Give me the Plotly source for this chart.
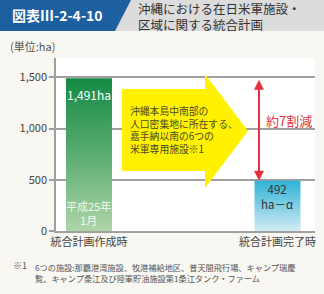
import plotly.graph_objects as go

# ---- data ----
categories = ["統合計画作成時", "統合計画完了時"]
values = [1491, 492]
value_labels = ["1,491ha", "492<br>ha－α"]
sub_labels = ["平成25年<br>1月", ""]
y_tickvals = [0, 500, 1000, 1500]
y_ticktext = ["0", "500", "1,000", "1,500"]
unit_label = "(単位:ha)"
title_id = "図表Ⅲ-2-4-10"
title_text = "沖縄における在日米軍施設・<br>区域に関する統合計画"
arrow_text = "沖縄本島中南部の<br>人口密集地に所在する、<br>嘉手納以南の6つの<br>米軍専用施設※1"
reduction_text = "約7割減"
footnote_mark = "※1"
footnote_text = "6つの施設:那覇港湾施設、牧港補給地区、普天間飛行場、キャンプ瑞慶<br>覧、キャンプ桑江及び陸軍貯油施設第1桑江タンク・ファーム"

W, H = 324, 294
L, R, T, B = 56, 9, 58, 63
PW, PH = W - L - R, H - T - B
FONT = "Noto Sans CJK JP"


def px(x):
    return (x - L) / PW


def py(y):
    return (H - B - y) / PH


bar_w = 0.244
xpos = list(range(len(categories)))
grads = [
    [[0, "#aed5a8"], [0.5, "#5aac72"], [1, "#158a45"]],
    [[0, "#d2ebf3"], [1, "#2fb2d6"]],
]

fig = go.Figure()
for i, (c, v) in enumerate(zip(xpos, values)):
    fig.add_trace(go.Scatter(
        x=[c - bar_w / 2, c + bar_w / 2, c + bar_w / 2, c - bar_w / 2, c - bar_w / 2],
        y=[0, 0, v, v, 0],
        mode="lines", fill="toself", line=dict(width=0),
        fillgradient=dict(type="vertical", colorscale=grads[i], start=0, stop=v),
        hoverinfo="skip", showlegend=False,
    ))

shapes = []
# header
shapes.append(dict(type="rect", xref="paper", yref="paper",
                   x0=px(0), x1=px(W), y0=py(31), y1=py(0),
                   fillcolor="#dcdcdc", line=dict(width=0), layer="below"))
shapes.append(dict(type="path", xref="paper", yref="paper",
                   path=f"M{px(0)},{py(0)} L{px(131)},{py(0)} L{px(115)},{py(31)} L{px(0)},{py(31)} Z",
                   fillcolor="#1d5f9f", line=dict(width=0)))
# yellow arrow
pts = [(122, 89), (205, 89), (205, 74), (248, 131), (205, 188), (205, 171), (122, 171)]
path = "M" + " L".join(f"{px(a)},{py(b)}" for a, b in pts) + " Z"
shapes.append(dict(type="path", xref="paper", yref="paper", path=path,
                   fillcolor="#fff100", line=dict(width=0), layer="above"))

annotations = [
    dict(x=px(10), y=py(15), xref="paper", yref="paper", text=f"<b>{title_id}</b>",
         showarrow=False, xanchor="left", yanchor="middle",
         font=dict(family=FONT, size=14, color="white")),
    dict(x=px(136), y=py(16.5), xref="paper", yref="paper", text=title_text,
         showarrow=False, xanchor="left", yanchor="middle", align="left",
         font=dict(family=FONT, size=12.5, color="#333333")),
    dict(x=px(8), y=py(46), xref="paper", yref="paper", text=unit_label,
         showarrow=False, xanchor="left", yanchor="middle",
         font=dict(family=FONT, size=11, color="#555555")),
    dict(x=px(128), y=py(130), xref="paper", yref="paper", text=arrow_text,
         showarrow=False, xanchor="left", yanchor="middle", align="left",
         font=dict(family=FONT, size=9.8, color="#4a4a2a")),
    dict(x=px(264), y=py(120), xref="paper", yref="paper", text=reduction_text,
         showarrow=False, xanchor="left", yanchor="middle",
         font=dict(family=FONT, size=13, color="#e5323e")),
    dict(x=px(11), y=py(265), xref="paper", yref="paper", text=footnote_mark,
         showarrow=False, xanchor="left", yanchor="middle",
         font=dict(family=FONT, size=9, color="#555555")),
    dict(x=px(33), y=py(272), xref="paper", yref="paper", text=footnote_text,
         showarrow=False, xanchor="left", yanchor="middle", align="left",
         font=dict(family=FONT, size=8.2, color="#555555")),
    # red double arrow
    dict(x=px(259), y=values[1], xref="x domain", yref="y",
         ax=px(259), ay=values[0], axref="x domain", ayref="y",
         text="", showarrow=True, arrowside="end+start", arrowhead=2,
         arrowsize=1, arrowwidth=2, arrowcolor="#e5323e"),
]
# bar labels
annotations.append(dict(x=xpos[0], y=values[0], xref="x", yref="y", yshift=-16,
                        text=value_labels[0], showarrow=False, yanchor="middle",
                        font=dict(family=FONT, size=12, color="white")))
annotations.append(dict(x=xpos[0], y=0, xref="x", yref="y", yshift=18,
                        text=sub_labels[0], showarrow=False, yanchor="middle",
                        font=dict(family=FONT, size=11, color="#f4f8f2")))
annotations.append(dict(x=xpos[1], y=values[1], xref="x", yref="y", yshift=-16,
                        text=value_labels[1], showarrow=False, yanchor="middle",
                        font=dict(family=FONT, size=11.5, color="#333333")))

fig.update_layout(
    width=W, height=H,
    margin=dict(l=L, r=R, t=T, b=B, pad=0),
    paper_bgcolor="#f8f7f2", plot_bgcolor="white",
    font=dict(family=FONT, color="#444444", size=11),
    shapes=shapes, annotations=annotations, showlegend=False,
    xaxis=dict(range=[-0.175, 1.199], tickvals=xpos, ticktext=categories,
               showgrid=False, zeroline=False, showline=True, linecolor="#a0a0a0",
               linewidth=1.5, ticks="", tickfont=dict(size=11, color="#444444"),
               fixedrange=True),
    yaxis=dict(range=[0, 1690], tickvals=y_tickvals, ticktext=y_ticktext,
               showgrid=True, gridcolor="#a0a0a0", gridwidth=1.5, zeroline=False,
               showline=True, linecolor="#a0a0a0", linewidth=1.5,
               ticks="outside", ticklen=5, tickcolor="#a0a0a0", tickwidth=1.5,
               tickfont=dict(size=11, color="#444444"), fixedrange=True),
)

fig.write_html("out.html", config={"displayModeBar": False})
